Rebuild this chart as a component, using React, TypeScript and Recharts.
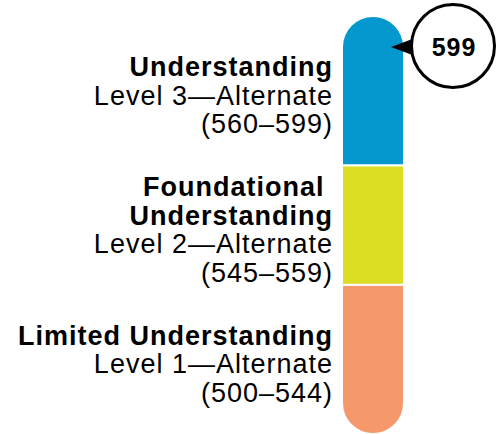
import React from 'react';
import { BarChart, Bar, XAxis, YAxis, LabelList } from 'recharts';

// Performance bands, bottom to top
const LEVEL_KEYS = ['limited', 'foundational', 'understanding'];
const LEVEL_TITLES = [['Limited Understanding'], ['Foundational\u00a0', 'Understanding'], ['Understanding']];
const LEVEL_NAMES = ['Level 1\u2014Alternate', 'Level 2\u2014Alternate', 'Level 3\u2014Alternate'];
const SCORE_RANGES = ['(500\u2013544)', '(545\u2013559)', '(560\u2013599)'];
// relative band heights as drawn (not to score scale)
const BAND_SIZES = [5, 4, 5];
const COLORS = ['#F6996A', '#DBDE23', '#0598CE'];
const STUDENT_SCORE = 599;

const FONT = '"Liberation Sans", Arial, Helvetica, sans-serif';

const row: Record<string, any> = { name: 'score' };
LEVEL_KEYS.forEach((k, i) => {
  row[k] = BAND_SIZES[i];
});
const data = [row];
const total = BAND_SIZES.reduce((a, b) => a + b, 0);

const boxOf = (props: any) => {
  const vb = props.viewBox ?? props;
  const h = Number(vb.height);
  return {
    x: Number(vb.x),
    y: h < 0 ? Number(vb.y) + h : Number(vb.y),
    width: Number(vb.width),
    height: Math.abs(h),
  };
};

// multi-line label to the left of each band
const levelLabel = (i: number) => (props: any) => {
  const { x, y, height } = boxOf(props);
  const lines = [
    ...LEVEL_TITLES[i].map((t) => ({ t, bold: true })),
    { t: LEVEL_NAMES[i], bold: false },
    { t: SCORE_RANGES[i], bold: false },
  ];
  const gap = 28.5;
  const mid = y + height / 2 + 4.5;
  const first = mid - ((lines.length - 1) * gap) / 2;
  return (
    <g>
      {lines.map((l, k) => (
        <text
          key={k}
          x={x - 9}
          y={first + k * gap + 9.5}
          textAnchor="end"
          fontFamily={FONT}
          fontSize={27}
          letterSpacing={1}
          fontWeight={l.bold ? 700 : 400}
          fill="#000"
        >
          {l.t}
        </text>
      ))}
    </g>
  );
};

// score callout pointing at the top band
const scoreCallout = (props: any) => {
  const { x, y, width } = boxOf(props);
  const right = x + width;
  const cy = y + 30;
  const cx = right + 49;
  return (
    <g>
      <polygon
        points={`${right - 13},${cy + 1} ${right + 11},${cy - 8} ${right + 11},${cy + 10}`}
        fill="#000"
      />
      <circle cx={cx} cy={cy} r={41.5} fill="#fff" stroke="#000" strokeWidth={3} />
      <text
        x={cx + 1}
        y={cy + 10}
        textAnchor="middle"
        fontFamily={FONT}
        fontSize={25}
        letterSpacing={1}
        fontWeight={700}
        fill="#000"
      >
        {STUDENT_SCORE}
      </text>
    </g>
  );
};

export default function App() {
  return (
    <div style={{ position: 'absolute', left: 0, top: 0 }}>
      <BarChart
        width={497}
        height={434}
        data={data}
        margin={{ top: 16, right: 93, bottom: 0, left: 342 }}
        barCategoryGap={0}
      >
        <XAxis dataKey="name" hide />
        <YAxis hide domain={[0, total]} />
        {LEVEL_KEYS.map((k, i) => (
          <Bar
            key={k}
            dataKey={k}
            stackId="band"
            fill={COLORS[i]}
            stroke="#fff"
            strokeWidth={2}
            isAnimationActive={false}
            radius={i === 0 ? [0, 0, 31, 31] : i === LEVEL_KEYS.length - 1 ? [31, 31, 0, 0] : 0}
          >
            <LabelList dataKey={k} content={levelLabel(i)} />
            {i === LEVEL_KEYS.length - 1 && <LabelList dataKey={k} content={scoreCallout} />}
          </Bar>
        ))}
      </BarChart>
    </div>
  );
}
